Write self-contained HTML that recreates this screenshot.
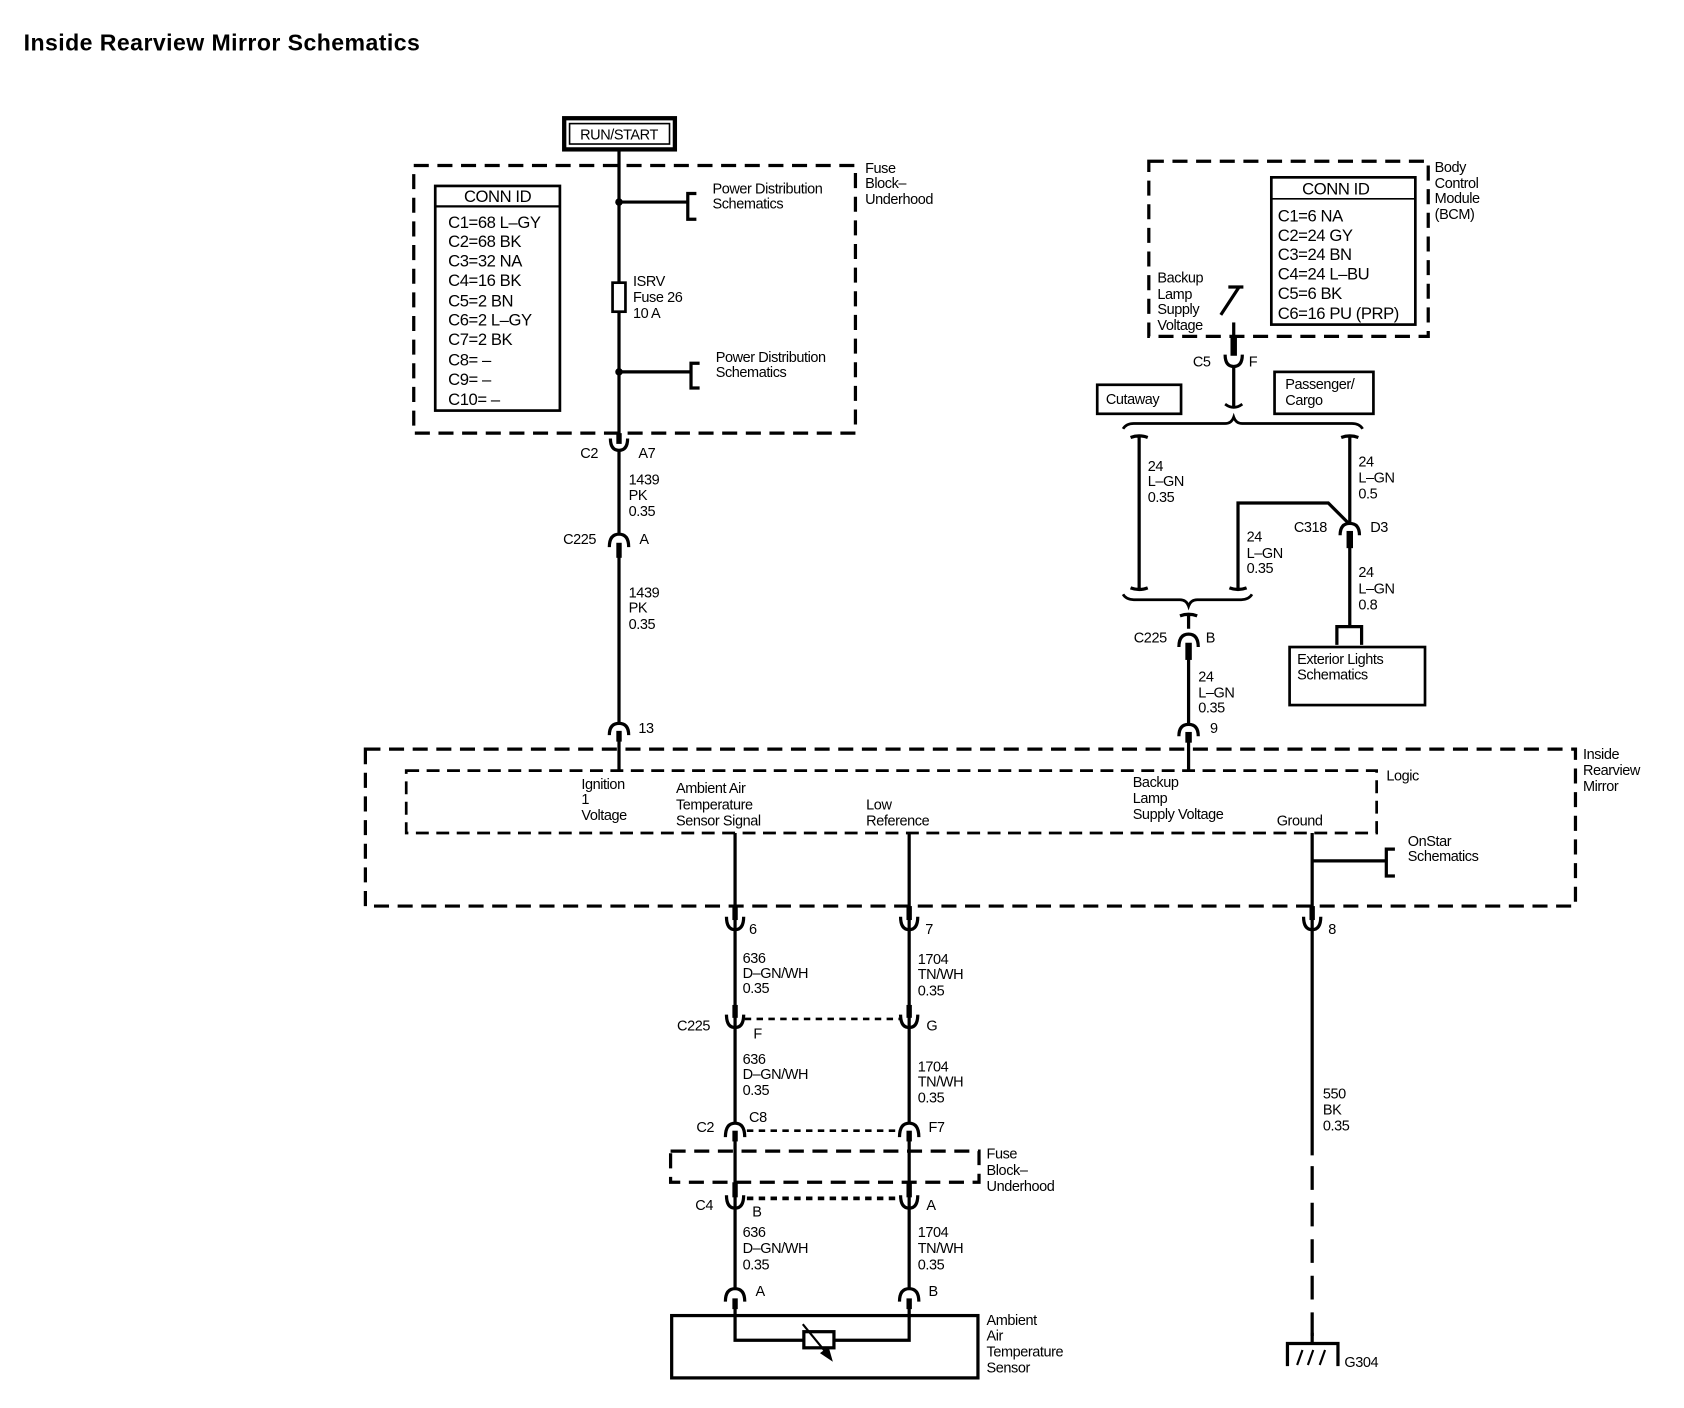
<!DOCTYPE html>
<html><head><meta charset="utf-8"><style>
html,body{margin:0;padding:0;background:#fff}
svg{display:block}
text{font-family:"Liberation Sans",Arial,sans-serif;font-size:13.5px;fill:#000;letter-spacing:-0.4px}
.b{font-weight:bold}
.w{stroke:#000;stroke-width:3;fill:none}
.d{stroke:#000;stroke-width:3;fill:none;stroke-dasharray:14 8}
.dd{stroke:#000;stroke-width:2.5;fill:none;stroke-dasharray:6 5}
.big{font-size:15.5px}
</style></head><body>
<svg width="1684" height="1408" viewBox="0 0 1567 1310" preserveAspectRatio="none" xmlns="http://www.w3.org/2000/svg">
<text x="22" y="47" class="b" style="font-size:21.5px;letter-spacing:0.4px">Inside Rearview Mirror Schematics</text>

<!-- RUN/START -->
<rect x="525" y="110" width="103" height="29" fill="none" stroke="#000" stroke-width="4"/>
<rect x="530" y="115" width="93" height="19" fill="none" stroke="#000" stroke-width="1.5"/>
<text x="576" y="130" text-anchor="middle">RUN/START</text>

<!-- Fuse block top -->
<rect x="385" y="154" width="411" height="249" class="d"/>
<text x="805" y="161">Fuse</text><text x="805" y="175">Block–</text><text x="805" y="190">Underhood</text>
<rect x="405" y="173" width="116" height="209" fill="none" stroke="#000" stroke-width="2.5"/>
<line x1="405" y1="192" x2="521" y2="192" stroke="#000" stroke-width="2"/>
<text x="463" y="188" text-anchor="middle" class="big">CONN ID</text>
<text x="417" y="212" class="big">C1=68 L–GY</text>
<text x="417" y="230" class="big">C2=68 BK</text>
<text x="417" y="248" class="big">C3=32 NA</text>
<text x="417" y="266" class="big">C4=16 BK</text>
<text x="417" y="285" class="big">C5=2 BN</text>
<text x="417" y="303" class="big">C6=2 L–GY</text>
<text x="417" y="321" class="big">C7=2 BK</text>
<text x="417" y="340" class="big">C8= –</text>
<text x="417" y="358" class="big">C9= –</text>
<text x="417" y="377" class="big">C10= –</text>
<line x1="576" y1="140" x2="576" y2="408" class="w"/>
<circle cx="576" cy="188" r="3.5"/>
<path d="M576 188 H640 M648 180 H640 V204 H648" class="w"/>
<text x="663" y="180">Power Distribution</text><text x="663" y="194">Schematics</text>
<rect x="570" y="263" width="12" height="27" fill="#fff" stroke="#000" stroke-width="2.5"/>
<text x="589" y="266">ISRV</text><text x="589" y="281">Fuse 26</text><text x="589" y="296">10 A</text>
<circle cx="576" cy="346" r="3.5"/>
<path d="M576 346 H643 M651 338 H643 V361 H651" class="w"/>
<text x="666" y="337">Power Distribution</text><text x="666" y="351">Schematics</text>

<!-- C2 A7 -->
<rect x="573.5" y="403" width="5" height="10"/>
<path d="M568 408 Q568 419 576 419 Q584 419 584 408" class="w"/>
<line x1="576" y1="419" x2="576" y2="683" class="w"/>
<text x="540" y="426">C2</text><text x="594" y="426">A7</text>
<text x="585" y="451">1439</text><text x="585" y="465">PK</text><text x="585" y="480">0.35</text>
<!-- C225 A -->
<path d="M567 509 Q567 497 576 497 Q585 497 585 509" class="w" style="fill:#fff"/>
<rect x="573.5" y="505" width="5" height="14"/>
<text x="524" y="506">C225</text><text x="595" y="506">A</text>
<text x="585" y="556">1439</text><text x="585" y="570">PK</text><text x="585" y="585">0.35</text>
<!-- 13 -->
<path d="M567 684 Q567 673 576 673 Q585 673 585 684" class="w" style="fill:#fff"/>
<rect x="573.5" y="680" width="5" height="10"/>
<line x1="576" y1="688" x2="576" y2="717" class="w"/>
<text x="594" y="682">13</text>

<!-- Inside Rearview Mirror -->
<rect x="340" y="697" width="1126" height="146" class="d"/>
<text x="1473" y="706">Inside</text><text x="1473" y="721">Rearview</text><text x="1473" y="736">Mirror</text>
<rect x="378" y="717" width="903" height="58" class="d" style="stroke-width:2.5;stroke-dasharray:12 7"/>
<text x="1290" y="726">Logic</text>
<text x="541" y="734">Ignition</text><text x="541" y="748">1</text><text x="541" y="763">Voltage</text>
<text x="629" y="738">Ambient Air</text><text x="629" y="753">Temperature</text><text x="629" y="768">Sensor Signal</text>
<text x="806" y="753">Low</text><text x="806" y="768">Reference</text>
<text x="1054" y="732">Backup</text><text x="1054" y="747">Lamp</text><text x="1054" y="762">Supply Voltage</text>
<text x="1188" y="768">Ground</text>

<!-- wires down -->
<line x1="684" y1="775" x2="684" y2="1215" class="w"/>
<line x1="846" y1="775" x2="846" y2="1215" class="w"/>
<line x1="1221" y1="775" x2="1221" y2="1075" class="w"/>
<line x1="1221" y1="1085" x2="1221" y2="1250" class="w" style="stroke-dasharray:22 12"/>
<path d="M1221 801 H1290 M1298 790 H1290 V815 H1298" class="w"/>
<text x="1310" y="787">OnStar</text><text x="1310" y="801">Schematics</text>

<!-- row 6/7/8 -->
<rect x="681.5" y="843" width="5" height="13"/><rect x="843.5" y="843" width="5" height="13"/><rect x="1218.5" y="843" width="5" height="13"/>
<path d="M676 853 Q676 865 684 865 Q692 865 692 853" class="w"/>
<path d="M838 853 Q838 865 846 865 Q854 865 854 853" class="w"/>
<path d="M1213 853 Q1213 865 1221 865 Q1229 865 1229 853" class="w"/>
<text x="697" y="869">6</text><text x="861" y="869">7</text><text x="1236" y="869">8</text>
<text x="691" y="896">636</text><text x="691" y="910">D–GN/WH</text><text x="691" y="924">0.35</text>
<text x="854" y="897">1704</text><text x="854" y="911">TN/WH</text><text x="854" y="926">0.35</text>

<!-- C225 F G -->
<rect x="681.5" y="935" width="5" height="12"/><rect x="843.5" y="935" width="5" height="12"/>
<path d="M676 944 Q676 956 684 956 Q692 956 692 944" class="w"/>
<path d="M838 944 Q838 956 846 956 Q854 956 854 944" class="w"/>
<line x1="693" y1="948" x2="838" y2="948" class="dd"/>
<text x="630" y="959">C225</text><text x="701" y="966">F</text><text x="862" y="959">G</text>
<text x="691" y="990">636</text><text x="691" y="1004">D–GN/WH</text><text x="691" y="1019">0.35</text>
<text x="854" y="997">1704</text><text x="854" y="1011">TN/WH</text><text x="854" y="1026">0.35</text>

<!-- C2 C8 F7 -->
<path d="M675 1058 Q675 1045 684 1045 Q693 1045 693 1058" class="w" style="fill:#fff"/>
<path d="M837 1058 Q837 1045 846 1045 Q855 1045 855 1058" class="w" style="fill:#fff"/>
<rect x="681.5" y="1052" width="5" height="10"/><rect x="843.5" y="1052" width="5" height="10"/>
<line x1="695" y1="1052" x2="838" y2="1052" class="dd"/>
<text x="648" y="1053">C2</text><text x="697" y="1044">C8</text><text x="864" y="1053">F7</text>
<rect x="624" y="1071" width="287" height="29" class="d"/>
<text x="918" y="1078">Fuse</text><text x="918" y="1093">Block–</text><text x="918" y="1108">Underhood</text>

<!-- C4 B A -->
<rect x="681.5" y="1100" width="5" height="14"/><rect x="843.5" y="1100" width="5" height="14"/>
<path d="M676 1112 Q676 1124 684 1124 Q692 1124 692 1112" class="w"/>
<path d="M838 1112 Q838 1124 846 1124 Q854 1124 854 1112" class="w"/>
<line x1="695" y1="1115" x2="838" y2="1115" class="dd" style="stroke-width:3.5"/>
<text x="647" y="1126">C4</text><text x="700" y="1132">B</text><text x="862" y="1126">A</text>
<text x="691" y="1151">636</text><text x="691" y="1166">D–GN/WH</text><text x="691" y="1181">0.35</text>
<text x="854" y="1151">1704</text><text x="854" y="1166">TN/WH</text><text x="854" y="1181">0.35</text>

<!-- A B sensor -->
<path d="M675 1211 Q675 1199 684 1199 Q693 1199 693 1211" class="w" style="fill:#fff"/>
<path d="M837 1211 Q837 1199 846 1199 Q855 1199 855 1211" class="w" style="fill:#fff"/>
<rect x="681.5" y="1208" width="5" height="10"/><rect x="843.5" y="1208" width="5" height="10"/>
<text x="703" y="1206">A</text><text x="864" y="1206">B</text>
<rect x="625" y="1224" width="285" height="58" class="w"/>
<path d="M684 1215 V1247 H846 V1215" class="w"/>
<rect x="748" y="1239" width="28" height="15" fill="#fff" stroke="#000" stroke-width="3"/>
<line x1="747" y1="1232" x2="770" y2="1260" stroke="#000" stroke-width="2"/>
<polygon points="775,1267 763,1259 771,1253"/>
<text x="918" y="1233">Ambient</text><text x="918" y="1247">Air</text><text x="918" y="1262">Temperature</text><text x="918" y="1277">Sensor</text>

<!-- Ground -->
<path d="M1198 1271 V1250 H1245 V1271" class="w"/>
<line x1="1221" y1="1240" x2="1221" y2="1250" class="w"/>
<path d="M1207 1270 L1212 1256 M1217 1270 L1222 1256 M1228 1270 L1233 1256" stroke="#000" stroke-width="2"/>
<text x="1251" y="1272">G304</text>
<text x="1231" y="1022">550</text><text x="1231" y="1037">BK</text><text x="1231" y="1052">0.35</text>

<!-- BCM -->
<rect x="1069" y="150" width="260" height="163" class="d"/>
<text x="1335" y="160">Body</text><text x="1335" y="175">Control</text><text x="1335" y="189">Module</text><text x="1335" y="204">(BCM)</text>
<rect x="1183" y="165" width="134" height="137" fill="none" stroke="#000" stroke-width="2.5"/>
<line x1="1183" y1="185" x2="1317" y2="185" stroke="#000" stroke-width="1.5"/>
<text x="1243" y="181" text-anchor="middle" class="big">CONN ID</text>
<text x="1189" y="206" class="big">C1=6 NA</text>
<text x="1189" y="224" class="big">C2=24 GY</text>
<text x="1189" y="242" class="big">C3=24 BN</text>
<text x="1189" y="260" class="big">C4=24 L–BU</text>
<text x="1189" y="278" class="big">C5=6 BK</text>
<text x="1189" y="297" class="big">C6=16 PU (PRP)</text>
<text x="1077" y="263">Backup</text><text x="1077" y="278">Lamp</text><text x="1077" y="292">Supply</text><text x="1077" y="307">Voltage</text>
<path d="M1143 267 H1157 M1153 267 L1136 293" class="w"/>
<line x1="1148" y1="300" x2="1148" y2="314" class="w"/>
<rect x="1145" y="313" width="6" height="18"/>
<path d="M1140 330 Q1140 341 1148 341 Q1156 341 1156 330" class="w"/>
<line x1="1148" y1="341" x2="1148" y2="378" class="w"/>
<path d="M1140 376 Q1148 382 1156 376" class="w" style="stroke-width:2.5"/>
<text x="1110" y="341">C5</text><text x="1162" y="341">F</text>
<rect x="1021" y="358" width="78" height="27" fill="none" stroke="#000" stroke-width="2.5"/>
<text x="1029" y="376">Cutaway</text>
<rect x="1186" y="346" width="92" height="39" fill="none" stroke="#000" stroke-width="2.5"/>
<text x="1196" y="362">Passenger/</text><text x="1196" y="377">Cargo</text>
<path d="M1045 399 Q1048 394 1055 394 H1140 Q1146 394 1148 388 Q1150 394 1156 394 H1258 Q1265 394 1268 399" class="w" style="stroke-width:2.5"/>
<path d="M1052 407 Q1060 404 1068 407 M1060 406 V547 M1052 547 Q1060 550 1068 547" class="w"/>
<text x="1068" y="438">24</text><text x="1068" y="452">L–GN</text><text x="1068" y="467">0.35</text>
<path d="M1248 407 Q1256 404 1264 407 M1256 406 V488" class="w"/>
<text x="1264" y="434">24</text><text x="1264" y="449">L–GN</text><text x="1264" y="464">0.5</text>
<path d="M1256 488 L1236 468 H1152 V547 M1144 547 Q1152 550 1160 547" class="w"/>
<text x="1160" y="504">24</text><text x="1160" y="519">L–GN</text><text x="1160" y="533">0.35</text>
<path d="M1247 498 Q1247 487 1256 487 Q1265 487 1265 498" class="w" style="fill:#fff"/>
<rect x="1253" y="494" width="6" height="16"/>
<line x1="1256" y1="508" x2="1256" y2="584" class="w"/>
<text x="1204" y="495">C318</text><text x="1275" y="495">D3</text>
<text x="1264" y="537">24</text><text x="1264" y="552">L–GN</text><text x="1264" y="567">0.8</text>
<path d="M1244 600 V583 H1267 V600" class="w"/>
<rect x="1200" y="602" width="126" height="54" fill="none" stroke="#000" stroke-width="2.5"/>
<text x="1207" y="618">Exterior Lights</text><text x="1207" y="632">Schematics</text>
<path d="M1045 553 Q1048 558 1055 558 H1098 Q1104 558 1106 564 Q1108 558 1114 558 H1155 Q1162 558 1165 553" class="w" style="stroke-width:2.5"/>
<path d="M1098 573 Q1106 570 1114 573 M1106 572 V585" class="w"/>
<path d="M1097 602 Q1097 590 1106 590 Q1115 590 1115 602" class="w" style="fill:#fff"/>
<rect x="1103" y="598" width="6" height="16"/>
<line x1="1106" y1="612" x2="1106" y2="683" class="w"/>
<text x="1055" y="598">C225</text><text x="1122" y="598">B</text>
<text x="1115" y="634">24</text><text x="1115" y="649">L–GN</text><text x="1115" y="663">0.35</text>
<path d="M1097 685 Q1097 674 1106 674 Q1115 674 1115 685" class="w" style="fill:#fff"/>
<rect x="1103" y="681" width="6" height="10"/>
<line x1="1106" y1="689" x2="1106" y2="717" class="w"/>
<text x="1126" y="682">9</text>
</svg>
</body></html>
